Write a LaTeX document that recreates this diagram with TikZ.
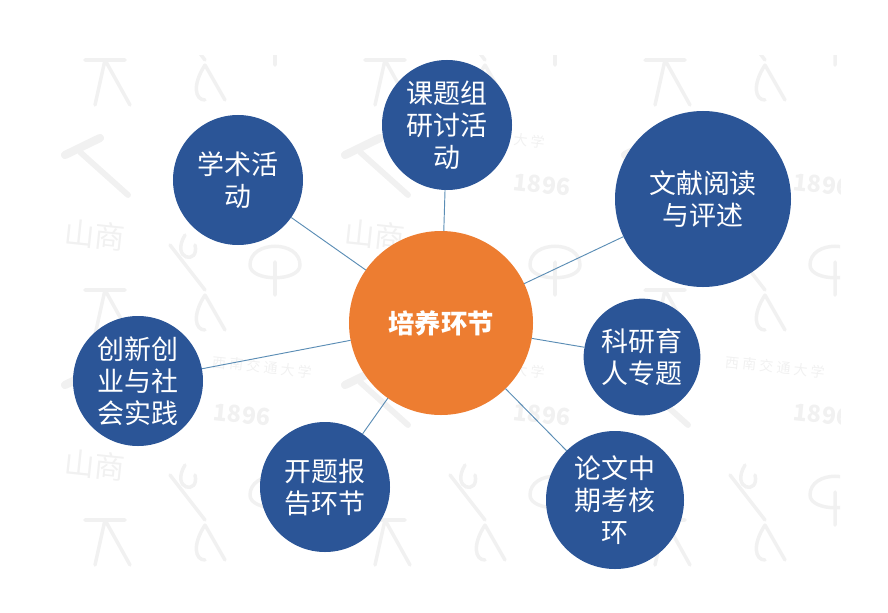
\documentclass[tikz,border=0pt]{standalone}
\usepackage{fontspec}
\setmainfont{Noto Sans CJK SC}
\definecolor{hubfill}{HTML}{ED7D31}
\definecolor{leaffill}{HTML}{2B5597}
\definecolor{linkcol}{HTML}{5B8DB5}
\definecolor{markcol}{HTML}{F1F1F1}
\begin{document}
\begin{tikzpicture}[x=.03cm,y=-.03cm,inner sep=0pt,outer sep=0pt,
leaf/.style={draw=none,fill=leaffill,circle,text=white,align=center,font=\fontsize{23}{27.5}\selectfont},
hub/.style={fill=hubfill,circle,text=white,font=\fontsize{22.5}{28}\selectfont\bfseries,minimum size=5.52cm},
link/.style={draw=linkcol,line width=.8pt},
inkmark/.style={draw=markcol,line width=3pt,line cap=round},
marktext/.style={text=markcol,rotate=-6}]
\useasboundingbox (0,0) rectangle (888,613);
% faint background tiles
\begin{scope}
\clip (22,55) rectangle (840,572);
\foreach \cx in {-280,0,280,560} {
\foreach \cy in {-230,0,230,460} {
\begin{scope}[shift={(\cx,\cy)}]
\draw[inkmark,line width=7pt] (65,155) -- (100,138);
\draw[inkmark,line width=5pt] (80,152) -- (128,195);
\draw[inkmark] (85,60) -- (125,60) (105,60) -- (95,105) (105,60) -- (130,105);
\draw[inkmark] (205,65) .. controls (192,85) and (195,100) .. (205,100) (205,65) -- (225,100);
\draw[inkmark] (170,245) -- (205,290) (185,235) .. controls (170,260) and (200,265) .. (195,245);
\draw[inkmark] (275,262) -- (275,295) (250,265) .. controls (250,240) and (300,240) .. (300,265) .. controls (300,282) and (250,282) .. (250,265);
\end{scope}
}}
\foreach \tx/\ty [count=\i] in {95/235,375/235,655/235,95/465} {
\node[marktext,font=\fontsize{26}{26}\selectfont\itshape] (tag\i) at (\tx,\ty) {山商};
}
\foreach \tx/\ty [count=\i] in {542/185,822/185,242/415,542/415,822/415} {
\node[marktext,font=\fontsize{20}{20}\selectfont\bfseries\itshape] (year\i) at (\tx,\ty) {1896};
}
\foreach \tx/\ty [count=\i] in {495/137,262/367,495/367,775/367} {
\node[marktext,font=\fontsize{12}{12}\selectfont\itshape] (name\i) at (\tx,\ty) {西 南 交 通 大 学};
}
\end{scope}
\node[hub] (train) at (441,323) {培养环节};
\node[leaf,minimum size=3.9cm] (group) at (447,125) {课题组\\研讨活\\动};
\node[leaf,minimum size=3.9cm] (activity) at (238,180) {学术活\\动};
\node[leaf,minimum size=5.28cm] (reading) at (703,199) {文献阅读\\与评述};
\node[leaf,minimum size=3.5cm] (ethics) at (642,357) {科研育\\人专题};
\node[leaf,minimum size=4.14cm] (midterm) at (615,500) {论文中\\期考核\\环};
\node[leaf,minimum size=3.9cm] (proposal) at (325,487) {开题报\\告环节};
\node[leaf,minimum size=3.9cm] (practice) at (138,381) {创新创\\业与社\\会实践};
\draw[link] (train) -- (group);
\draw[link] (train) -- (activity);
\draw[link] (train) -- (reading);
\draw[link] (train) -- (ethics);
\draw[link] (train) -- (midterm);
\draw[link] (train) -- (proposal);
\draw[link] (train) -- (practice);
\end{tikzpicture}
\end{document}
